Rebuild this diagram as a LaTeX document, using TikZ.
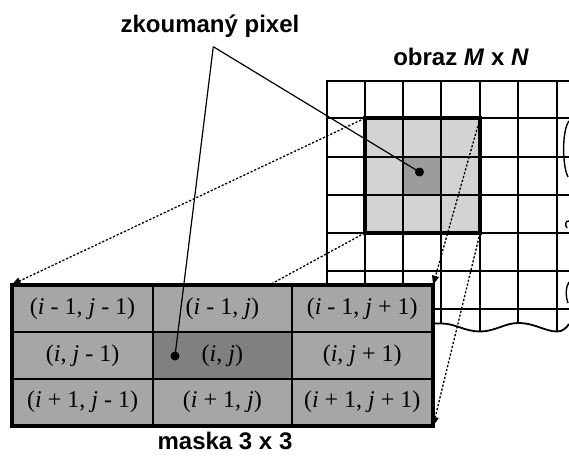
\documentclass[tikz,border=0pt]{standalone}
\usepackage{fontspec}
\setmainfont{Liberation Serif}
\newfontfamily\lsans{Liberation Sans}
\usetikzlibrary{arrows.meta}
\definecolor{hlight}{RGB}{211,211,211}
\definecolor{hcenter}{RGB}{156,156,156}
\definecolor{mcell}{RGB}{166,166,166}
\definecolor{mcenter}{RGB}{128,128,128}
\begin{document}
\begin{tikzpicture}[x=1pt,y=-1pt,
  gridline/.style={line width=1.8pt},
  cell/.style={draw, line width=2pt, fill=mcell, minimum width=139.8pt, minimum height=46.4pt, inner sep=0pt, font=\fontsize{24}{28}\selectfont, anchor=center},
  lbl/.style={font=\lsans\bfseries\fontsize{24}{28}\selectfont, inner sep=0pt},
  dotconn/.style={line width=1.3pt, dash pattern=on 2.2pt off 1.8pt, -{Triangle[length=9pt,width=7pt]}},
  callout/.style={line width=1.2pt},
  pdot/.style={circle, fill=black, inner sep=0pt, minimum size=9pt}
]
\useasboundingbox (0,0) rectangle (569,460);

% --- image grid (obraz M x N) ---
\begin{scope}
\clip (320,70) -- (569,70) -- (569,324) .. controls (566,328) and (563,331.5) .. (557,331.5)
  .. controls (545,331.5) and (535,323) .. (518,323)
  .. controls (505,323) and (495,331.5) .. (480,331.5)
  .. controls (465,331.5) and (455,323.5) .. (441.7,323.5) -- (320,323.5) -- cycle;
\fill[hlight] (364.7,118.3) rectangle (480,233);
\fill[hcenter] (403,157) rectangle (441.3,195);
\foreach \x in {326.7,364.7,403,441.3,480,518.3,556.7}
  \draw[gridline] (\x,80.7) -- (\x,340);
\foreach \y in {80.7,118.3,157,195,233,271,309.3}
  \draw[gridline] (326.7,\y) -- (575,\y);
\end{scope}
\draw[gridline] (325.8,80.7) -- (569,80.7);
\draw[gridline] (432,323.5) -- (441.7,323.5)
  .. controls (455,323.5) and (465,331.5) .. (480,331.5)
  .. controls (495,331.5) and (505,323) .. (518,323)
  .. controls (535,323) and (545,331.5) .. (557,331.5)
  .. controls (563,331.5) and (566,328) .. (569,324);
% content fragments at the right edge
\draw[line width=1.4pt] (569,121) .. controls (562,130) and (562,165) .. (568,177);
\draw[line width=1.4pt] (569,221) .. controls (565,220) and (565,226) .. (567,228);
\draw[line width=1.4pt] (569,282) .. controls (565.5,287) and (565.5,296) .. (568,303);

% highlighted 3x3 area
\coordinate (hTL) at (364.7,118.3);
\coordinate (hTR) at (480,118.3);
\coordinate (hBL) at (364.7,233);
\coordinate (hBR) at (480,233);
\draw[line width=3.8pt] (hTL) rectangle (hBR);
\node[pdot] (imgdot) at (419.5,172) {};

% labels
\node[lbl] (lpix) at (210,26) {zkoumaný pixel};
\node[lbl] (lobr) at (461,57) {obraz \textit{M} x \textit{N}};
\node[lbl] (lmask) at (225,441) {maska 3 x 3};
\coordinate (callsrc) at (213.3,46.7);
\draw[callout] (callsrc) -- (imgdot.center);

% hidden dotted connector (behind mask)
\coordinate (mBL) at (12.7,424.9);
\draw[dotconn] (hBL) -- (mBL);

% --- mask 3 x 3 ---
\node[cell] (m11) at (82.6,308.9) {(\textit{i} - 1, \textit{j} - 1)};
\node[cell] (m12) at (222.4,308.9) {(\textit{i} - 1, \textit{j})};
\node[cell] (m13) at (362.2,308.9) {(\textit{i} - 1, \textit{j} + 1)};
\node[cell] (m21) at (82.6,355.3) {(\textit{i}, \textit{j} - 1)};
\node[cell, fill=mcenter] (m22) at (222.4,355.3) {(\textit{i}, \textit{j})};
\node[cell] (m23) at (362.2,355.3) {(\textit{i}, \textit{j} + 1)};
\node[cell] (m31) at (82.6,401.7) {(\textit{i} + 1, \textit{j} - 1)};
\node[cell] (m32) at (222.4,401.7) {(\textit{i} + 1, \textit{j})};
\node[cell] (m33) at (362.2,401.7) {(\textit{i} + 1, \textit{j} + 1)};
\draw[line width=3.2pt] (m11.north west) rectangle (m33.south east);

\node[pdot] (maskdot) at (175,356) {};
\draw[callout] (callsrc) -- (maskdot.center);

% dotted connectors
\draw[dotconn] (hTL) -- (m11.north west);
\draw[dotconn] (hTR) -- (m13.north east);
\draw[dotconn] (hBR) -- (m33.south east);
\end{tikzpicture}
\end{document}
